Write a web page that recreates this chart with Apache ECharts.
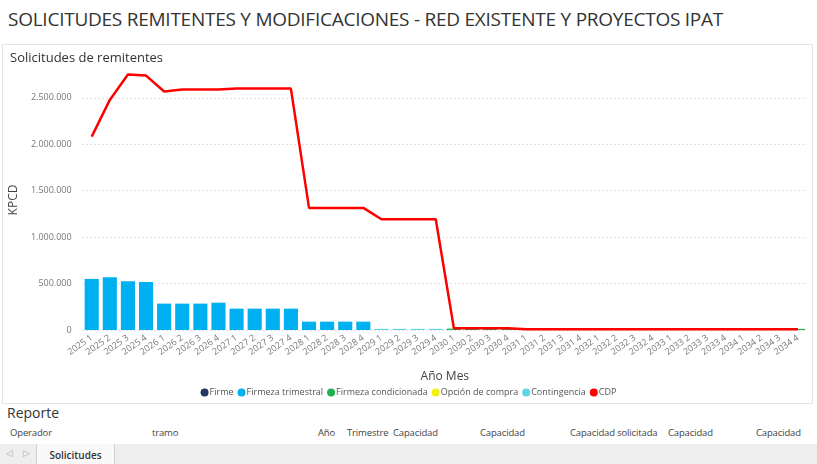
<!DOCTYPE html>
<html lang="es">

<head>
    <title>Solicitudes remitentes</title>
    <meta charset="UTF-8">
    <script src="https://cdn.jsdelivr.net/npm/echarts@6.0.0/dist/echarts.min.js"></script>
    <style>
        body { margin: 0; width: 817px; height: 464px; overflow: hidden; background: #fff; font-family: "Open Sans", "Noto Sans", sans-serif; color: #252423; position: relative; }
        .abs { position: absolute; white-space: nowrap; }
        #pageTitle { left: 8px; top: 6px; font-size: 19px; letter-spacing: -0.25px; color: #333; }
        #panel { left: 2px; top: 44px; width: 809px; height: 358px; border: 1px solid #e4e4e4; }
        #chart { position: absolute; left: 0; top: 0; width: 817px; height: 464px; }
        #reporte { left: 7px; top: 403px; font-size: 14px; color: #333; }
        .hdr { top: 426px; font-size: 9.5px; letter-spacing: -0.15px; color: #444; }
        #strip { left: 0; top: 444px; width: 817px; height: 20px; background: #eeeeee; }
        #tab { left: 36px; top: 444px; width: 77px; height: 20px; background: #f9f9f9; border-left: 1px solid #d0d0d0; border-right: 1px solid #d0d0d0; font-size: 10px; font-weight: 600; line-height: 22px; text-align: center; color: #333; }
        #arrows { left: 6px; top: 446px; font-size: 9px; color: #aaa; letter-spacing: 4px; }
    </style>
</head>

<body>
    <div class="abs" id="pageTitle">SOLICITUDES REMITENTES Y MODIFICACIONES - RED EXISTENTE Y PROYECTOS IPAT</div>
    <div class="abs" id="panel"></div>
    <div class="abs" id="reporte">Reporte</div>
    <div class="abs" id="strip"></div>
    <div class="abs" id="arrows">◁ ▷</div>
    <div class="abs" id="tab">Solicitudes</div>
    <div id="headers"></div>
    <div id="chart"></div>

    <script>
        var categories = ['2025 1', '2025 2', '2025 3', '2025 4', '2026 1', '2026 2', '2026 3', '2026 4',
            '2027 1', '2027 2', '2027 3', '2027 4', '2028 1', '2028 2', '2028 3', '2028 4',
            '2029 1', '2029 2', '2029 3', '2029 4', '2030 1', '2030 2', '2030 3', '2030 4',
            '2031 1', '2031 2', '2031 3', '2031 4', '2032 1', '2032 2', '2032 3', '2032 4',
            '2033 1', '2033 2', '2033 3', '2033 4', '2034 1', '2034 2', '2034 3', '2034 4'];

        var firme = [0, 0, 0, 0, 0, 0, 0, 0, 0, 0, 0, 0, 0, 0, 0, 0, 0, 0, 0, 0,
            0, 0, 0, 0, 0, 0, 0, 0, 0, 0, 0, 0, 0, 0, 0, 0, 0, 0, 0, 0];
        var firmezaTrimestral = [550000, 568000, 525000, 517000, 284000, 284000, 284000, 294000,
            230000, 230000, 230000, 230000, 90000, 90000, 90000, 90000, 0, 0, 0, 0,
            0, 0, 0, 0, 0, 0, 0, 0, 0, 0, 0, 0, 0, 0, 0, 0, 0, 0, 0, 0];
        var firmezaCondicionada = [0, 0, 0, 0, 0, 0, 0, 0, 0, 0, 0, 0, 0, 0, 0, 0, 0, 0, 0, 0,
            15000, 15000, 15000, 15000, 12000, 12000, 12000, 12000, 12000, 12000, 12000, 12000,
            12000, 12000, 12000, 12000, 12000, 12000, 12000, 12000];
        var opcionCompra = [0, 0, 0, 0, 0, 0, 0, 0, 0, 0, 0, 0, 0, 0, 0, 0, 0, 0, 0, 0,
            0, 0, 0, 0, 0, 0, 0, 0, 0, 0, 0, 0, 0, 0, 0, 0, 0, 0, 0, 0];
        var contingencia = [0, 0, 0, 0, 0, 0, 0, 0, 0, 0, 0, 0, 0, 0, 0, 0, 12000, 12000, 12000, 12000,
            0, 0, 0, 0, 0, 0, 0, 0, 0, 0, 0, 0, 0, 0, 0, 0, 0, 0, 0, 0];
        var cdp = [2083000, 2478000, 2751000, 2740000, 2568000, 2589000, 2589000, 2589000,
            2600000, 2600000, 2600000, 2600000, 1315000, 1315000, 1315000, 1315000,
            1193000, 1193000, 1193000, 1193000, 20000, 20000, 20000, 20000,
            8000, 8000, 8000, 8000, 8000, 8000, 8000, 8000, 8000, 8000, 8000, 8000, 8000, 8000, 8000, 8000];

        var headerLabels = ['Operador', 'tramo', 'Año', 'Trimestre', 'Capacidad', 'Capacidad', 'Capacidad solicitada', 'Capacidad', 'Capacidad'];
        var headerX = [10, 152, 318, 347, 393, 480, 570, 668, 756];

        var hdrBox = document.getElementById('headers');
        headerLabels.forEach(function (t, i) {
            var d = document.createElement('div');
            d.className = 'abs hdr';
            d.style.left = headerX[i] + 'px';
            d.textContent = t;
            hdrBox.appendChild(d);
        });

        function puntos(v) {
            return String(v).replace(/\B(?=(\d{3})+(?!\d))/g, '.');
        }

        function barra(name, data, color) {
            return {
                name: name,
                type: 'bar',
                stack: 'total',
                data: data,
                barCategoryGap: '22%',
                itemStyle: { color: color }
            };
        }

        var option = {
            animation: false,
            textStyle: { fontFamily: '"Open Sans", "Noto Sans", sans-serif' },
            title: {
                text: 'Solicitudes de remitentes',
                left: 5,
                top: 47,
                textStyle: { fontSize: 13, fontWeight: 'normal', color: '#333' }
            },
            legend: {
                top: 383,
                left: 'center',
                icon: 'circle',
                itemWidth: 8,
                itemHeight: 8,
                itemGap: 4,
                textStyle: { fontSize: 9, color: '#555', padding: [0, 0, 0, -4] },
                data: ['Firme', 'Firmeza trimestral', 'Firmeza condicionada', 'Opción de compra', 'Contingencia', 'CDP']
            },
            grid: { left: 77, right: 10, top: 70, bottom: 134 },
            xAxis: {
                type: 'category',
                data: categories,
                axisLine: { show: false },
                axisTick: { show: false },
                axisLabel: { interval: 0, rotate: 35, fontSize: 9, color: '#777', margin: 7 },
                name: 'Año Mes',
                nameLocation: 'middle',
                nameGap: 41,
                nameTextStyle: { fontSize: 12, color: '#444' }
            },
            yAxis: {
                type: 'value',
                min: 0,
                max: 2800000,
                interval: 500000,
                name: 'KPCD',
                nameLocation: 'middle',
                nameGap: 57,
                nameTextStyle: { fontSize: 12, color: '#444' },
                axisLabel: { fontSize: 9, color: '#777', margin: 11, formatter: puntos, showMaxLabel: false },
                splitLine: { showMaxLine: false, lineStyle: { type: [1, 3], color: '#c8c8c8' } }
            },
            series: [
                barra('Firme', firme, '#1f3864'),
                barra('Firmeza trimestral', firmezaTrimestral, '#00b0f0'),
                barra('Firmeza condicionada', firmezaCondicionada, '#1fb050'),
                barra('Opción de compra', opcionCompra, '#f2f20c'),
                barra('Contingencia', contingencia, '#5fd3e8'),
                {
                    name: 'CDP',
                    type: 'line',
                    data: cdp,
                    symbol: 'none',
                    z: 5,
                    itemStyle: { color: '#ff0000' },
                    lineStyle: { color: '#ff0000', width: 2.5 }
                }
            ]
        };

        var myChart = echarts.init(document.getElementById('chart'));
        myChart.setOption(option);
    </script>
</body>

</html>
